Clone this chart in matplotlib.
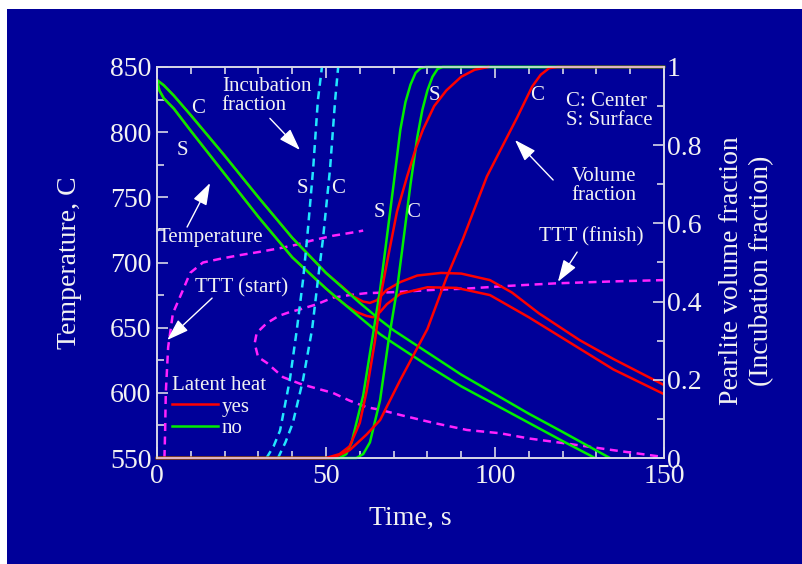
import matplotlib
matplotlib.use("Agg")
import matplotlib.pyplot as plt
from matplotlib.patches import Rectangle
from matplotlib.ticker import MultipleLocator, FixedLocator, FixedFormatter

plt.rcParams['font.family'] = ['Liberation Serif', 'DejaVu Serif']

BG = '#000099'
SPINE = '#D8D8E8'
TXT = '#F2F2F2'
RED = '#FF0000'
GREEN = '#00EE00'
CYAN = '#22E6FF'
MAGENTA = '#FF22FF'

# ---- temperature (left axis), C ----
green_C_t = [0, 2, 5, 10, 20, 30, 40, 50, 60, 66, 70, 80, 90, 100, 110, 120, 134]
green_C_T = [840, 836, 828, 813, 782, 750, 719, 692, 669, 656, 648, 631, 614, 599, 584, 570, 550]
green_S_t = [0, 0.7, 2, 5, 10, 20, 30, 40, 50, 60, 66, 70, 80, 90, 100, 110, 120, 129.6]
green_S_T = [840, 832, 826, 818, 801, 768, 735, 704, 680, 658, 645, 638, 621, 605, 591, 577, 563, 550]

red_C_t = [0, 2, 5, 10, 20, 30, 40, 50, 55, 58, 61, 63, 65, 68, 72, 77, 84, 90, 98.5, 105, 113, 125, 135, 150]
red_C_T = [840, 836, 828, 813, 782, 750, 719, 692, 681, 674, 670, 669, 671, 679, 685, 690, 692, 691.5, 686.5, 677, 661, 640.5, 626, 606]
red_S_t = [0, 0.7, 2, 5, 10, 20, 30, 40, 50, 53, 56, 59, 62, 64, 66, 68, 72, 80, 88.7, 98.5, 110, 125, 135, 150]
red_S_T = [840, 832, 826, 818, 801, 768, 735, 704, 680, 673, 667, 662, 659, 658, 662, 668, 676, 681, 680.5, 675, 658, 634, 618, 599]

# ---- pearlite volume fraction (right axis) ----
gf_S_t = [0, 54, 56, 57.6, 59, 61, 63.6, 66, 67.5, 70, 72, 73.5, 75, 76.5, 78, 79.5, 150]
gf_S_f = [0, 0, 0.01, 0.04, 0.09, 0.16, 0.30, 0.43, 0.53, 0.70, 0.84, 0.91, 0.955, 0.985, 0.997, 1.0, 1.0]
gf_C_t = [0, 59, 61, 63, 66, 68.5, 71, 72.5, 75, 77, 78.5, 80, 81.5, 83, 84.5, 150]
gf_C_f = [0, 0, 0.01, 0.04, 0.148, 0.30, 0.43, 0.53, 0.70, 0.82, 0.89, 0.94, 0.975, 0.995, 1.0, 1.0]
rf_S_t = [0, 50, 54, 57, 60, 62, 64.5, 66.5, 68.5, 71, 74, 76.5, 78.7, 82, 85.6, 90, 94, 98]
rf_S_f = [0, 0, 0.01, 0.03, 0.09, 0.17, 0.30, 0.43, 0.52, 0.63, 0.72, 0.79, 0.84, 0.90, 0.94, 0.975, 0.993, 1.0]
rf_C_t = [0, 52, 57, 62, 66, 72, 80, 85.6, 90.5, 97.6, 106.5, 111, 113.5, 116, 118.5, 150]
rf_C_f = [0, 0, 0.02, 0.06, 0.097, 0.2, 0.33, 0.46, 0.56, 0.72, 0.87, 0.95, 0.98, 0.997, 1.0, 1.0]

# ---- incubation fraction (right axis) ----
inc_S_t = [32.4, 34.5, 36.4, 39.3, 41.4, 43.2, 44.4, 46.2, 47.6, 48.8]
inc_S_f = [0, 0.03, 0.07, 0.2, 0.33, 0.455, 0.56, 0.74, 0.915, 1.0]
inc_C_t = [35.8, 38, 40.2, 43.2, 45.9, 47.6, 49.1, 51.2, 52.7, 53.6]
inc_C_f = [0, 0.04, 0.09, 0.2, 0.33, 0.455, 0.56, 0.74, 0.915, 1.0]

# ---- TTT diagram (left axis) ----
ttt_start_t = [2.2, 2.4, 2.6, 3.3, 4.7, 7.7, 9.8, 13.6, 19, 24.6, 30, 36.4, 41, 46, 52, 59, 61]
ttt_start_T = [550, 570, 600, 635, 661, 679, 692, 700, 703, 705.7, 708, 711, 713.5, 717, 720.5, 723.5, 724.5]
# upper branch from the right end to the nose, then lower branch back out
ttt_fin_t = [150, 135, 118, 103.5, 91.7, 81.7, 72, 66, 62, 57, 52, 47.3, 42.3, 39.3, 36, 32.5, 29.5, 28.9,
             29.9, 32.5, 37.3, 42.3, 47, 52, 57, 62, 66, 72, 81.7, 91.7, 101.5, 110, 120, 135, 150]
ttt_fin_T = [686.5, 685.5, 684, 682, 680, 679, 677.5, 676.8, 676.5, 675, 673, 668, 664, 662, 659, 653.5, 646, 638,
             627.5, 623, 612, 607, 603.5, 600, 594, 589, 587, 583, 577, 571.5, 569, 565, 561.5, 556, 550.7]

fig = plt.figure(figsize=(8.03, 5.64), dpi=100, facecolor='white')
fig.add_artist(Rectangle((7 / 803, 0), 1 - 7 / 803, 1 - 9 / 564, transform=fig.transFigure,
                         facecolor=BG, edgecolor='none', zorder=0))

ax = fig.add_axes([157 / 803, 1 - 458 / 564, 507 / 803, 391 / 564])
ax.set_facecolor(BG)
ax2 = ax.twinx()

lw = 1.8
dash = (3.2, 2.2)

# TTT curves
ax.plot(ttt_start_t, ttt_start_T, color=MAGENTA, lw=lw, dashes=dash)
ax.plot(ttt_fin_t, ttt_fin_T, color=MAGENTA, lw=lw, dashes=dash)

# temperature (red underneath, green on top)
l_yes, = ax.plot(red_C_t, red_C_T, color=RED, lw=lw)
ax.plot(red_S_t, red_S_T, color=RED, lw=lw)
l_no, = ax.plot(green_C_t, green_C_T, color=GREEN, lw=lw)
ax.plot(green_S_t, green_S_T, color=GREEN, lw=lw)

# incubation + volume fraction
ax2.plot(inc_S_t, inc_S_f, color=CYAN, lw=lw, dashes=dash)
ax2.plot(inc_C_t, inc_C_f, color=CYAN, lw=lw, dashes=dash)
ax2.plot(gf_S_t, gf_S_f, color=GREEN, lw=lw, clip_on=False)
ax2.plot(gf_C_t, gf_C_f, color=GREEN, lw=lw, clip_on=False)
ax2.plot(rf_S_t, rf_S_f, color=RED, lw=lw, clip_on=False)
ax2.plot(rf_C_t, rf_C_f, color=RED, lw=lw, clip_on=False)

ax.set_xlim(0, 150)
ax.set_ylim(550, 850)
ax2.set_ylim(0, 1)

ax.xaxis.set_major_locator(MultipleLocator(50))
ax.xaxis.set_minor_locator(MultipleLocator(10))
ax.yaxis.set_major_locator(MultipleLocator(50))
ax.yaxis.set_minor_locator(MultipleLocator(25))
ax2.yaxis.set_major_locator(FixedLocator([0, 0.2, 0.4, 0.6, 0.8, 1.0]))
ax2.yaxis.set_major_formatter(FixedFormatter(['0', '0.2', '0.4', '0.6', '0.8', '1']))
ax2.yaxis.set_minor_locator(MultipleLocator(0.1))

for a in (ax, ax2):
    for s in a.spines.values():
        s.set_color(SPINE)
        s.set_linewidth(1.2)
    a.tick_params(which='both', direction='in', color=SPINE, labelcolor=TXT, labelsize=20, width=1.2)
    a.tick_params(which='major', length=8)
    a.tick_params(which='minor', length=5)
ax.tick_params(top=True, right=False, which='both')
ax.tick_params(axis='y', pad=4)
ax.tick_params(axis='x', pad=4)
ax2.tick_params(axis='y', pad=2)

ax.set_xlabel('Time, s', color=TXT, fontsize=20)
ax.xaxis.set_label_coords(0.5, -0.122)
ax.set_ylabel('Temperature, C', color=TXT, fontsize=20)
ax.yaxis.set_label_coords(-0.148, 0.5)
ax2.set_ylabel('Pearlite volume fraction\n(Incubation fraction)', color=TXT, fontsize=20,
               multialignment='center', linespacing=1.3)
ax2.yaxis.set_label_coords(1.108, 0.48)

fs = 15
kw = dict(color=TXT, fontsize=fs)
arrow = dict(arrowstyle='-|>,head_length=0.9,head_width=0.3', color='white', lw=1,
             shrinkA=0, shrinkB=0, mutation_scale=15)

ax.text(19.2, 827.7, 'Incubation\nfraction', ha='left', va='center', linespacing=1.0, **kw)
ax.annotate('', xy=(42.3, 786.3), xytext=(33.4, 810.6), arrowprops=arrow)
ax.text(12.1, 818.5, 'C', ha='center', va='center', **kw)
ax.text(7.4, 786.3, 'S', ha='center', va='center', **kw)
ax.text(0.3, 719.5, 'Temperature', ha='left', va='center', **kw)
ax.annotate('', xy=(15.7, 761), xytext=(8.9, 727.2), arrowprops=arrow)
ax.text(42.9, 757, 'S', ha='center', va='center', **kw)
ax.text(53.6, 757, 'C', ha='center', va='center', **kw)
ax.text(65.7, 738.7, 'S', ha='center', va='center', **kw)
ax.text(75.7, 738.7, 'C', ha='center', va='center', **kw)
ax.text(82.2, 828.5, 'S', ha='center', va='center', **kw)
ax.text(112.4, 828.5, 'C', ha='center', va='center', **kw)
ax.text(121, 816.3, 'C: Center\nS: Surface', ha='left', va='center', linespacing=1.05, **kw)
ax.text(132.2, 758.7, 'Volume\nfraction', ha='center', va='center', linespacing=1.0, **kw)
ax.annotate('', xy=(105.9, 794), xytext=(117.2, 763.3), arrowprops=arrow)
ax.text(128.4, 719.5, 'TTT (finish)', ha='center', va='center', **kw)
ax.annotate('', xy=(118.6, 685.2), xytext=(124.3, 708), arrowprops=arrow)
ax.text(25.1, 680.4, 'TTT (start)', ha='center', va='center', **kw)
ax.annotate('', xy=(3.0, 640.5), xytext=(16.3, 672.7), arrowprops=arrow)

leg = ax.legend([l_yes, l_no], ['yes', 'no'], title='Latent heat', loc='upper left',
                bbox_to_anchor=(0.0296, 0.2097), frameon=False, borderpad=0, borderaxespad=0,
                handlelength=2.2, handletextpad=0.2, labelspacing=0.1, fontsize=fs,
                title_fontsize=fs, alignment='left')
for t in leg.get_texts():
    t.set_color(TXT)
leg.get_title().set_color(TXT)

fig.savefig('out.png', dpi=100, facecolor=fig.get_facecolor())
